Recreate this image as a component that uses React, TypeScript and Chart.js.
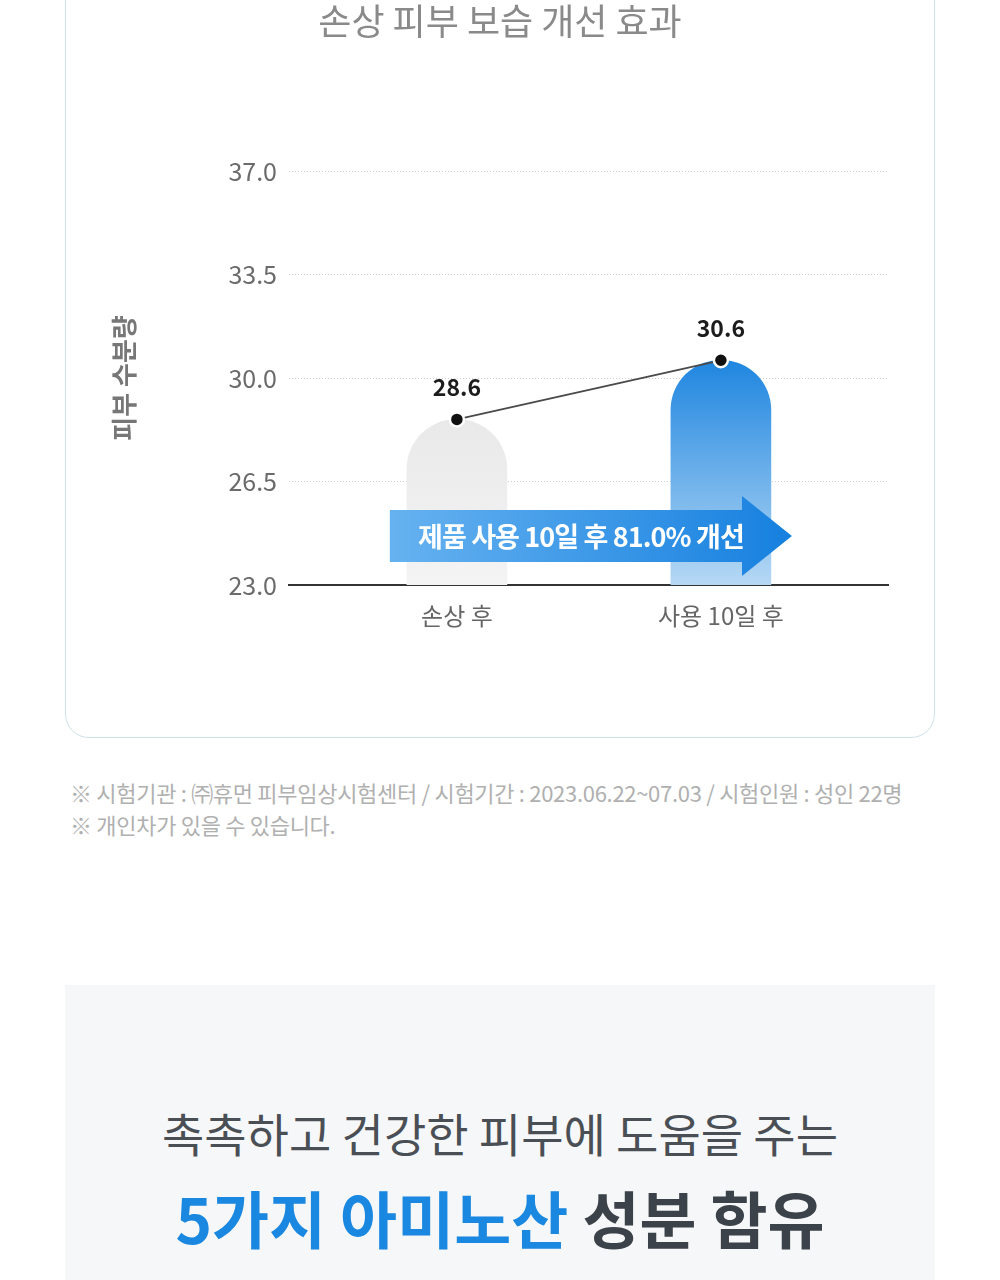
import React, { useEffect, useRef } from "react";
import { Chart, registerables } from "chart.js";

Chart.register(...registerables);

const TITLE = "손상 피부 보습 개선 효과";
const Y_TITLE = "피부 수분량";
const X_LABELS = ["손상 후", "사용 10일 후"];
const X_POSITIONS = [0, 1];
const VALUES = [28.6, 30.6];
const Y_TICKS = [23.0, 26.5, 30.0, 33.5, 37.0];
const BAR_TOP_COLORS = ["#e9e9e9", "#1f86e0"];
const BAR_BOTTOM_COLORS = ["#f4f4f4", "#b6d8f4"];
const ARROW_TEXT = "제품 사용 10일 후 81.0% 개선";
const FOOTNOTES = [
  "※ 시험기관 : ㈜휴먼 피부임상시험센터 / 시험기간 : 2023.06.22~07.03 / 시험인원 : 성인 22명",
  "※ 개인차가 있을 수 있습니다.",
];
const HEADLINE_1 = "촉촉하고 건강한 피부에 도움을 주는";
const HEADLINE_2_BLUE = "5가지 아미노산";
const HEADLINE_2_DARK = "성분 함유";

const FONT = '"Noto Sans CJK KR", "Noto Sans", sans-serif';

// arrow annotation anchored in scale values
const ARROW_X_FROM = -0.254;
const ARROW_X_HEAD = 1.08;
const ARROW_X_TIP = 1.269;
const ARROW_Y = 24.66;

const valueLabelPlugin = {
  id: "valueLabels",
  afterDatasetsDraw(chart: any) {
    const { ctx } = chart;
    const meta = chart.getDatasetMeta(0);
    ctx.save();
    ctx.font = `bold 23px ${FONT}`;
    ctx.fillStyle = "#1c1c1c";
    ctx.textAlign = "center";
    ctx.textBaseline = "middle";
    meta.data.forEach((pt: any, i: number) => {
      ctx.fillText(VALUES[i].toFixed(1), pt.x, pt.y - 32);
    });
    ctx.restore();
  },
};

const arrowPlugin = {
  id: "arrowBanner",
  afterDatasetsDraw(chart: any) {
    const { ctx, scales } = chart;
    const x0 = scales.x.getPixelForValue(ARROW_X_FROM);
    const xh = scales.x.getPixelForValue(ARROW_X_HEAD);
    const xt = scales.x.getPixelForValue(ARROW_X_TIP);
    const yc = scales.y.getPixelForValue(ARROW_Y);
    const bh = 26;
    const hh = 40;
    ctx.save();
    const g = ctx.createLinearGradient(x0, 0, xt, 0);
    g.addColorStop(0, "#66b2f0");
    g.addColorStop(1, "#1680df");
    ctx.fillStyle = g;
    ctx.beginPath();
    ctx.moveTo(x0, yc - bh);
    ctx.lineTo(xh, yc - bh);
    ctx.lineTo(xh, yc - hh);
    ctx.lineTo(xt, yc);
    ctx.lineTo(xh, yc + hh);
    ctx.lineTo(xh, yc + bh);
    ctx.lineTo(x0, yc + bh);
    ctx.closePath();
    ctx.fill();
    ctx.font = `bold 27px ${FONT}`;
    (ctx as any).letterSpacing = "-0.9px";
    ctx.fillStyle = "#ffffff";
    ctx.textAlign = "center";
    ctx.textBaseline = "middle";
    ctx.fillText(ARROW_TEXT, (x0 + xh) / 2 + 15, yc + 1);
    ctx.restore();
  },
};

function ChartCanvas() {
  const ref = useRef<HTMLCanvasElement | null>(null);
  useEffect(() => {
    if (!ref.current) return;
    const barColor = (c: any) => {
      const i = c.dataIndex;
      const chart = c.chart;
      const area = chart.chartArea;
      if (!area || !chart.scales.y) return BAR_TOP_COLORS[i];
      const top = chart.scales.y.getPixelForValue(VALUES[i]);
      const g = chart.ctx.createLinearGradient(0, top, 0, area.bottom);
      g.addColorStop(0, BAR_TOP_COLORS[i]);
      g.addColorStop(1, BAR_BOTTOM_COLORS[i]);
      return g;
    };
    const chart = new Chart(ref.current, {
      type: "bar",
      data: {
        datasets: [
          {
            type: "line",
            data: X_POSITIONS.map((x, i) => ({ x, y: VALUES[i] })),
            borderColor: "#4a4a4a",
            borderWidth: 1.8,
            pointRadius: 7,
            pointBackgroundColor: "#111111",
            pointBorderColor: "#ffffff",
            pointBorderWidth: 2.5,
            order: 0,
          } as any,
          {
            type: "bar",
            data: X_POSITIONS.map((x, i) => ({ x, y: VALUES[i] })),
            backgroundColor: barColor,
            barThickness: 100,
            borderRadius: 50,
            order: 1,
          } as any,
        ],
      },
      options: {
        responsive: false,
        animation: false,
        layout: { padding: { left: 0, right: 0, top: 0, bottom: 0 } },
        plugins: {
          legend: { display: false },
          tooltip: { enabled: false },
          title: {
            display: true,
            text: TITLE,
            color: "#8a8a8a",
            font: { family: FONT, size: 36, weight: "normal", lineHeight: 1.2 },
            padding: { top: 0, bottom: 127.8 },
          },
        },
        scales: {
          x: {
            type: "linear",
            offset: false,
            bounds: "ticks",
            min: -0.636,
            max: 1.633,
            afterBuildTicks: (s: any) => {
              s.ticks = X_POSITIONS.map((v) => ({ value: v }));
            },
            afterFit: (s: any) => {
              s.height = 115;
            },
            grid: { display: false, drawTicks: false, offset: false },
            border: { display: true, color: "#333333", width: 2 },
            ticks: {
              padding: 16,
              color: "#666666",
              font: { family: FONT, size: 24 },
              callback: (v: any) => X_LABELS[v] ?? "",
            },
          },
          y: {
            type: "linear",
            min: 23,
            max: 37,
            afterBuildTicks: (s: any) => {
              s.ticks = Y_TICKS.map((v) => ({ value: v }));
            },
            afterFit: (s: any) => {
              s.width = 224;
            },
            grid: {
              drawTicks: false,
              color: (c: any) => (c.tick && c.tick.value === 23 ? "rgba(0,0,0,0)" : "#cfcfcf"),
              lineWidth: 1,
            },
            border: { display: false, dash: [1, 2] },
            ticks: {
              padding: 12,
              color: "#6b6b6b",
              font: { family: FONT, size: 25 },
              callback: (v: any) => Number(v).toFixed(1),
            },
            title: {
              display: true,
              text: Y_TITLE,
              color: "#777777",
              font: { family: FONT, size: 26, weight: "bold", lineHeight: 1.2 },
              padding: { top: 43.4, bottom: 0 },
            },
          },
          yRightSpacer: {
            type: "linear",
            position: "right",
            display: true,
            grid: { display: false, drawTicks: false },
            border: { display: false },
            ticks: { display: false },
            afterFit: (s: any) => {
              s.width = 47;
            },
          },
        },
      },
      plugins: [arrowPlugin, valueLabelPlugin],
    } as any);
    return () => chart.destroy();
  }, []);
  return <canvas ref={ref} width={870} height={700} style={{ width: 870, height: 700, display: "block" }} />;
}

export default function App() {
  return (
    <div
      style={{
        position: "absolute",
        left: 0,
        top: 0,
        width: 1000,
        height: 1280,
        overflow: "hidden",
        background: "#ffffff",
        fontFamily: FONT,
      }}
    >
      <div
        style={{
          position: "absolute",
          left: 65,
          top: -40,
          width: 870,
          height: 778,
          boxSizing: "border-box",
          border: "1.5px solid #cfe2e6",
          borderRadius: 24,
        }}
      />
      <div style={{ position: "absolute", left: 65, top: 0, width: 870, height: 700 }}>
        <ChartCanvas />
      </div>
      <div
        style={{
          position: "absolute",
          left: 70,
          top: 776,
          fontSize: 22,
          lineHeight: "32px",
          color: "#b0b0b0",
          letterSpacing: "-0.3px",
          whiteSpace: "nowrap",
        }}
      >
        {FOOTNOTES.map((t, i) => (
          <div key={i}>{t}</div>
        ))}
      </div>
      <div
        style={{
          position: "absolute",
          left: 65,
          top: 985,
          width: 870,
          height: 320,
          background: "#f6f7f8",
        }}
      />
      <div
        style={{
          position: "absolute",
          left: 0,
          top: 1099,
          width: 1000,
          textAlign: "center",
          fontSize: 46,
          lineHeight: "66px",
          color: "#4a4f55",
          letterSpacing: "0px",
          whiteSpace: "nowrap",
        }}
      >
        {HEADLINE_1}
      </div>
      <div
        style={{
          position: "absolute",
          left: 0,
          top: 1174,
          width: 1000,
          textAlign: "center",
          fontSize: 62,
          lineHeight: "86px",
          fontWeight: "bold",
          letterSpacing: "0px",
          whiteSpace: "nowrap",
        }}
      >
        <span style={{ color: "#1a87e0" }}>{HEADLINE_2_BLUE}</span>{" "}
        <span style={{ color: "#3c4249" }}>{HEADLINE_2_DARK}</span>
      </div>
    </div>
  );
}
